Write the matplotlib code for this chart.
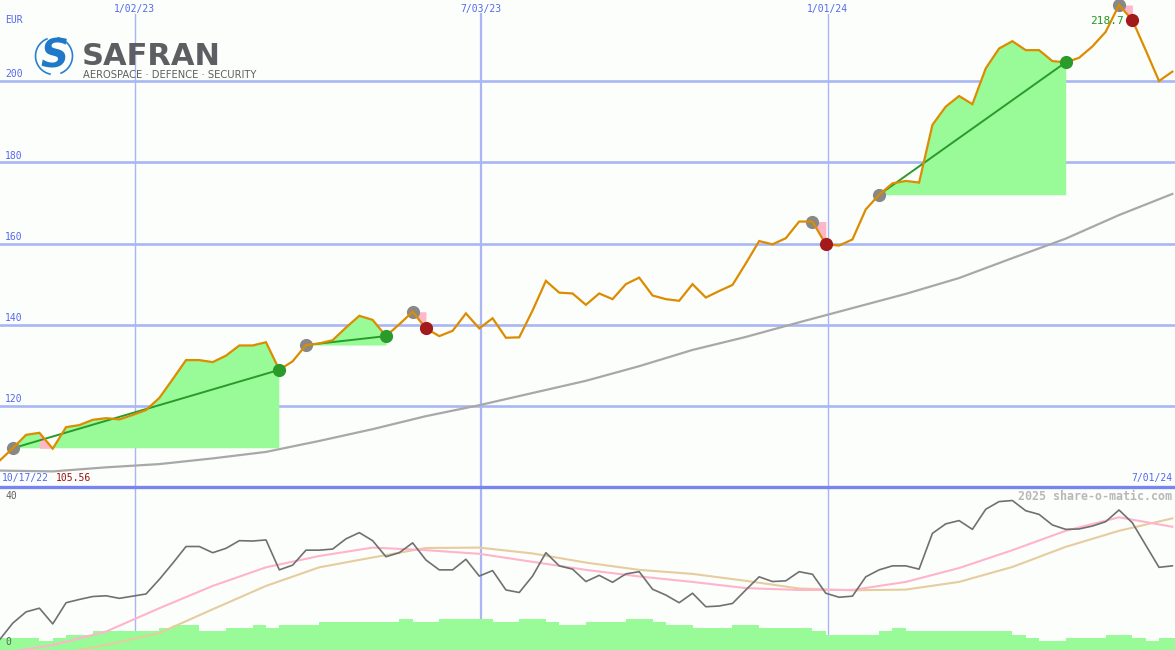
import numpy as np
import pandas as pd
import matplotlib
matplotlib.use("Agg")
import matplotlib.pyplot as plt
import matplotlib.dates as mdates
from matplotlib.transforms import blended_transform_factory as blend
from matplotlib.patches import Arc

# ---------------- data ----------------
first_week = "2022-10-23"
range_end = "2024-07-01"

price = [106.5, 109.6, 112.9, 113.4, 109.5, 114.8, 115.3, 116.6, 117.0, 116.7,
         117.8, 119.0, 122.0, 126.6, 131.3, 131.3, 130.8, 132.4, 134.9, 134.9,
         135.7, 128.9, 131.0, 135.0, 135.4, 136.2, 139.3, 142.2, 141.2, 137.2,
         140.1, 143.2, 139.1, 137.2, 138.5, 142.8, 139.1, 141.6, 136.8, 136.9,
         143.5, 150.8, 147.9, 147.7, 144.9, 147.7, 146.3, 150.0, 151.6, 147.2,
         146.3, 145.9, 150.0, 146.7, 148.3, 149.8, 155.1, 160.6, 159.8, 161.3,
         165.4, 165.4, 159.8, 159.5, 161.0, 168.4, 172.0, 174.8, 175.4, 175.0,
         189.2, 193.7, 196.3, 194.3, 203.1, 208.0, 209.8, 207.6, 207.6, 204.9,
         204.6, 205.7, 208.5, 212.1, 218.7, 215.0, 207.6, 200.0, 202.3]

# long moving average, read every 4 weeks
ma_long = [104.1, 103.9, 104.9, 105.7, 107.1, 108.7, 111.4, 114.3, 117.5, 120.2,
           123.2, 126.2, 129.8, 133.8, 137.0, 140.6, 144.1, 147.6, 151.5, 156.4,
           161.2, 167.0, 172.2]

# lower panel oscillator (weekly)
osc = [2.2, 6.8, 9.9, 10.9, 6.6, 12.4, 13.3, 14.1, 14.3, 13.6,
       14.2, 14.8, 18.8, 23.2, 27.8, 27.8, 26.1, 27.3, 29.4, 29.3,
       29.6, 21.4, 22.7, 26.8, 26.8, 27.1, 29.9, 31.6, 29.4, 25.0,
       26.1, 28.8, 24.1, 21.4, 21.4, 24.3, 19.7, 21.2, 15.9, 15.2,
       19.7, 26.1, 22.5, 21.6, 18.2, 19.9, 18.0, 20.3, 20.9, 16.1,
       14.5, 12.4, 15.0, 11.3, 11.5, 12.2, 15.9, 19.5, 18.2, 18.4,
       20.9, 20.2, 15.0, 13.9, 14.2, 19.5, 21.4, 22.5, 22.5, 21.6,
       31.4, 34.0, 34.9, 32.5, 38.0, 40.1, 40.4, 37.6, 36.6, 33.7,
       32.5, 32.6, 33.4, 34.6, 37.8, 34.3, 28.2, 22.1, 22.5]
# smoothed oscillator averages, read every 4 weeks
osc_fast = [-1.5, 0.8, 4.5, 10.9, 17.0, 22.1, 25.2, 27.5, 26.8, 25.8, 23.6, 21.4,
            19.6, 18.1, 16.4, 15.9, 15.9, 18.1, 21.9, 26.8, 32.1, 35.8, 33.2]
osc_slow = [-4.0, -2.0, 0.8, 4.1, 10.6, 17.0, 22.1, 24.8, 27.4, 27.5, 25.9, 23.4,
            21.4, 20.3, 18.4, 16.3, 15.8, 16.0, 18.1, 22.2, 27.7, 32.1, 35.5]

volume = [3.37, 3.37, 3.37, 2.47, 3.37, 4.11, 4.11, 5.21, 5.21, 5.21,
          5.21, 5.21, 6.11, 6.85, 6.85, 5.21, 5.21, 6.11, 6.11, 6.85,
          6.11, 6.85, 6.85, 6.85, 7.67, 7.67, 7.67, 7.67, 7.67, 7.67,
          8.49, 7.67, 7.67, 8.49, 8.49, 8.49, 8.49, 7.67, 7.67, 8.49,
          8.49, 7.67, 6.85, 6.85, 7.67, 7.67, 7.67, 8.49, 8.49, 7.67,
          6.85, 6.85, 6.11, 6.11, 6.11, 6.85, 6.85, 6.11, 6.11, 6.11,
          6.11, 5.21, 4.11, 4.11, 4.11, 4.11, 5.21, 6.11, 5.21, 5.21,
          5.21, 5.21, 5.21, 5.21, 5.21, 5.21, 4.11, 3.37, 2.47, 2.47,
          3.37, 3.37, 3.37, 4.11, 4.11, 3.37, 2.47, 3.37, 3.37]

buy_idx = [1, 23, 31, 61, 66, 84]
sell_idx = [21, 29, 32, 62, 80, 85]
dip_segments = [(3, 4, 1)]  # (from week, to week, trade buy week) drawn pink

price_levels = [120, 140, 160, 180, 200]
tick_dates = ["2023-01-02", "2023-07-03", "2024-01-01"]
tick_labels = ["1/02/23", "7/03/23", "1/01/24"]
tick_widths = [1.0, 1.6, 1.0]
start_label, low_label, end_label = "10/17/22", "105.56", "7/01/24"
high_label = "218.7"
osc_levels = [0, 40]

# ---------------- styles ----------------
W, H = 1175, 650
BG = "#fcfefc"
GRID = "#a9b5f4"
BLUE_TXT = "#5468ec"
ORANGE = "#dc8c00"
PALEGREEN = "#98fb98"
PINK = "#ffb6c8"
DKGREEN = "#2a9a2a"
MONO = "DejaVu Sans Mono"

n = len(price)
dates = pd.Timestamp(first_week) + pd.to_timedelta(7 * np.arange(n), unit="D")
x = mdates.date2num(dates)
x4 = x[::4]
p = np.array(price)
xlim = (mdates.date2num(pd.Timestamp(first_week)) + 0.3,
        mdates.date2num(pd.Timestamp(range_end)) + 0.4)

fig = plt.figure(figsize=(W / 100, H / 100), dpi=100, facecolor=BG)
split = 163 / H
ax = fig.add_axes([0, split, 1, 1 - split])
ax2 = fig.add_axes([0, 0, 1, split])
for a in (ax, ax2):
    a.set_facecolor(BG)
    a.set_xlim(*xlim)
    a.set_xticks([])
    a.set_yticks([])
    for s in a.spines.values():
        s.set_visible(False)

# ---------------- main panel ----------------
ax.set_ylim(100.06, 219.94)
for lv in price_levels:
    ax.axhline(lv, color=GRID, lw=1.9, zorder=1)
    ax.text(5 / W, lv + 0.4, str(lv), transform=blend(ax.transAxes, ax.transData),
            ha="left", va="bottom", fontsize=7, family=MONO, color=BLUE_TXT, zorder=6)
ax.text(5 / W, 1 - 20 / 487, "EUR", transform=ax.transAxes, ha="left", va="center",
        fontsize=7, family=MONO, color=BLUE_TXT)
for d, lab, lw in zip(tick_dates, tick_labels, tick_widths):
    xd = mdates.date2num(pd.Timestamp(d))
    ax.axvline(xd, ymin=0, ymax=1 - 14 / 487, color=GRID, lw=lw, zorder=1)
    ax2.axvline(xd, color=GRID, lw=lw, zorder=1)
    ax.text(xd, 1 - 9 / 487, lab, transform=blend(ax.transData, ax.transAxes),
            ha="center", va="center", fontsize=7, family=MONO, color=BLUE_TXT)

ax.text(2 / W, 9 / 487, start_label, transform=ax.transAxes, ha="left", va="center",
        fontsize=7, family=MONO, color=BLUE_TXT)
ax.text(56 / W, 9 / 487, low_label, transform=ax.transAxes, ha="left", va="center",
        fontsize=7, family=MONO, color="#a01010")
ax.text(1172 / W, 9 / 487, end_label, transform=ax.transAxes, ha="right", va="center",
        fontsize=7, family=MONO, color=BLUE_TXT)

# trades: fills
for b, s in zip(buy_idx, sell_idx):
    seg = slice(b, s + 1)
    lvl = p[b]
    ax.fill_between(x[seg], p[seg], lvl, where=p[seg] >= lvl, interpolate=True,
                    color=PALEGREEN, lw=0, zorder=2)
    ax.fill_between(x[seg], p[seg], lvl, where=p[seg] < lvl, interpolate=True,
                    color=PINK, lw=0, zorder=2)
for a0, a1, b in dip_segments:
    seg = slice(a0, a1 + 1)
    ax.fill_between(x[seg], p[seg], p[b], color=PINK, lw=0, zorder=2.5)

ax.plot(x4, ma_long, color="#a8a8a8", lw=1.6, zorder=3)

for b, s in zip(buy_idx, sell_idx):
    if p[s] > p[b]:
        ax.plot([x[b], x[s]], [p[b], p[s]], color=DKGREEN, lw=1.4, zorder=3.5)
ax.plot(x[buy_idx], p[buy_idx], "o", ms=9.5, color="#888888", mec="none", zorder=3.8)
ax.plot(x, p, color=ORANGE, lw=1.6, zorder=4, solid_joinstyle="miter")
for b, s in zip(buy_idx, sell_idx):
    col = DKGREEN if p[s] > p[b] else "#a31a1a"
    ax.plot(x[s], p[s], "o", ms=9.5, color=col, mec="none", zorder=5)

imax = int(np.argmax(p))
ax.annotate(high_label, (x[imax], p[imax]), xytext=(-12, -16), textcoords="offset pixels",
            ha="center", va="center", fontsize=8, family=MONO, color="#229922", zorder=4.5)

# logo
def fx(px):
    return px / W

def fy(py):
    return 1 - py / H

fig.text(fx(82), fy(65), "SAFRAN", fontsize=22, fontweight="bold", family="DejaVu Sans",
         color="#5e5e62", ha="left", va="baseline")
fig.text(fx(83), fy(77.5), "AEROSPACE · DEFENCE · SECURITY", fontsize=7.2,
         family=["Liberation Sans Narrow", "DejaVu Sans"], color="#5e5e62",
         ha="left", va="baseline")
lax = fig.add_axes([fx(30), fy(82), fx(50), 50 / H])
lax.set_xlim(30, 80)
lax.set_ylim(82, 32)
lax.axis("off")
lax.add_patch(Arc((54, 56), 37, 37, theta1=100, theta2=250, color="#2a7fd0", lw=1.2))
lax.add_patch(Arc((54, 56), 37, 37, theta1=280, theta2=430, color="#2a7fd0", lw=1.2))
lax.text(54, 57, "S", fontsize=28, fontweight="bold", color="#1f78c8", ha="center",
         va="center", family="DejaVu Sans", style="italic")

# ---------------- lower panel ----------------
ax2.set_ylim(-0.55, 44.1)
ax2.spines["top"].set_visible(True)
ax2.spines["top"].set_color("#7686ee")
ax2.spines["top"].set_linewidth(2.4)
ax2.bar(x, volume, width=7, align="edge", bottom=-0.55, color=PALEGREEN, lw=0, zorder=2)
ax2.plot(x4, osc_slow, color="#e6cc9e", lw=1.5, zorder=3)
ax2.plot(x4, osc_fast, color="#ffb4cc", lw=1.5, zorder=3.2)
ax2.plot(x, osc, color="#707070", lw=1.2, zorder=4)
for lv in osc_levels:
    ax2.text(5 / W, lv + 0.3, str(lv), transform=blend(ax2.transAxes, ax2.transData),
             ha="left", va="bottom", fontsize=7, family=MONO, color="#606060", zorder=6)
ax2.text(1172 / W, 1 - 9 / 163, "2025 share-o-matic.com", transform=ax2.transAxes,
         ha="right", va="center", fontsize=8.4, family=MONO, fontweight="bold",
         color="#b8b8b8", zorder=6)

fig.savefig("out.png", dpi=100, facecolor=BG)
